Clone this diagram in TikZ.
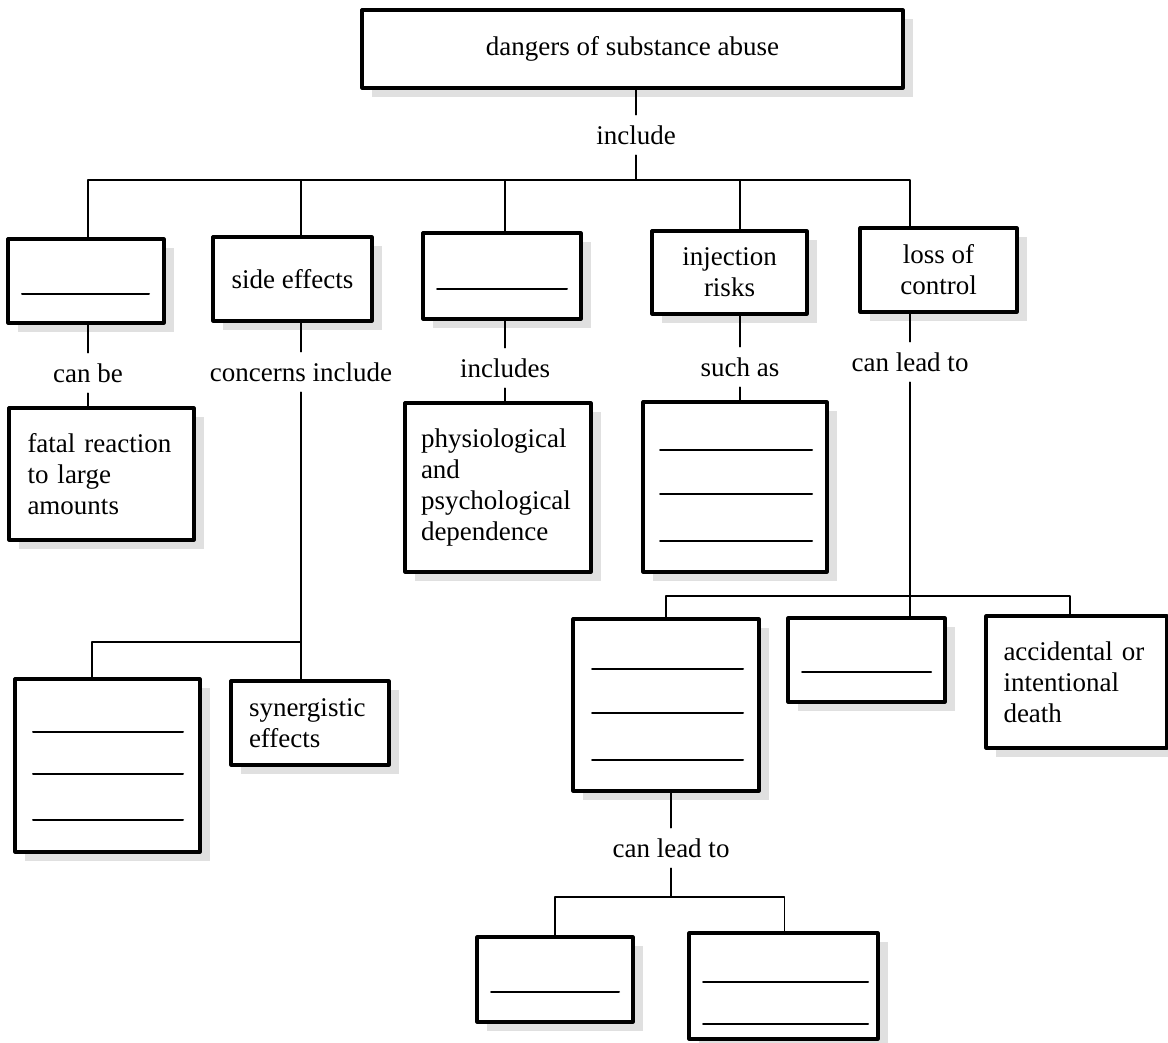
\documentclass[tikz,border=0pt]{standalone}
\usepackage{fontspec}
\setmainfont{Liberation Serif}
\usepackage{tikz}
\usetikzlibrary{shadows}

\begin{document}
\begin{tikzpicture}[line cap=round,line join=round,x=0.5pt,y=-0.5pt,
    box/.style={draw,fill=white,line width=1.6pt,inner sep=0pt,align=center,
      font=\fontsize{13.5}{15.5}\selectfont,
      drop shadow={shadow xshift=5pt,shadow yshift=-4.5pt,fill=black!12,opacity=1}},
    lbl/.style={inner sep=0pt,minimum height=20pt,font=\fontsize{13.5}{15.5}\selectfont},
    link/.style={line width=0.9pt},
    blank/.style={line width=1pt}]
  \useasboundingbox (0,0) rectangle (1168,1043);

  % top of the map
  \node[box,minimum width=270.5pt,minimum height=39pt] (top) at (632.5,49) {dangers of substance abuse};
  \node[lbl] (incl) at (636,135) {include};
  \coordinate (bus) at (636,180);

  % first row
  \node[box,minimum width=78pt,minimum height=42pt] (b1) at (86,281) {};
  \node[box,minimum width=79.5pt,minimum height=42pt] (side) at (292.5,279) {side effects};
  \node[box,minimum width=79pt,minimum height=43pt] (b3) at (502,276) {};
  \node[box,minimum width=77.5pt,minimum height=41.5pt] (inj) at (729.5,272.5) {injection\\risks};
  \node[box,minimum width=78.5pt,minimum height=42pt] (loss) at (938.5,270) {loss of\\control};

  \node[lbl] (canbe) at (88,373) {can be};
  \node[lbl] (conc) at (301,372) {concerns include};
  \node[lbl] (incls) at (505,368) {includes};
  \node[lbl] (suchl) at (740,367) {such as};
  \node[lbl] (lead) at (910,362) {can lead to};

  % second row
  \node[box,minimum width=92.5pt,minimum height=66pt,align=left,text width=74pt] (fatal) at (101.5,474)
    {fatal reaction\\to large\\amounts};
  \node[box,minimum width=93pt,minimum height=84.5pt,align=left,text width=77pt] (dep) at (498,487.5)
    {physiological\\and\\psychological\\dependence};
  \node[box,minimum width=92pt,minimum height=85pt] (such) at (735,487) {};

  % lower part
  \node[box,minimum width=92.5pt,minimum height=86.5pt] (blank3) at (107.5,765.5) {};
  \node[box,minimum width=79pt,minimum height=42pt,align=left,text width=61pt] (syn) at (310,723)
    {synergistic\\effects};
  \node[box,minimum width=93pt,minimum height=86pt] (lbox) at (666,705) {};
  \node[box,minimum width=78.5pt,minimum height=42pt] (mid) at (866.5,660) {};
  \node[box,minimum width=90.5pt,minimum height=66pt,align=left,text width=73pt] (acc) at (1076.5,682)
    {accidental or\\intentional\\death};
  \node[lbl] (lead2) at (671,848) {can lead to};
  \node[box,minimum width=78pt,minimum height=42.5pt] (low1) at (555,979.5) {};
  \node[box,minimum width=94.5pt,minimum height=53pt] (low2) at (783.5,986) {};

  % connectors
  \draw[link] (top.south -| incl) -- (incl.north);
  \draw[link] (incl.south) -- (bus);
  \draw[link] (bus) -| (b1.north -| canbe);
  \draw[link] (bus) -| (side.north -| conc);
  \draw[link] (bus) -| (b3.north -| incls);
  \draw[link] (bus) -| (inj.north -| suchl);
  \draw[link] (bus) -| (loss.north -| lead);

  \draw[link] (b1.south -| canbe) -- (canbe.north);
  \draw[link] (canbe.south) -- (fatal.north -| canbe);

  \draw[link] (side.south -| conc) -- (conc.north);
  \coordinate (fork) at (conc |- 0,642);
  \draw[link] (conc.south) -- (syn.north -| conc);
  \draw[link] (fork) -| ([xshift=-7.75pt]blank3.north);

  \draw[link] (b3.south -| incls) -- (incls.north);
  \draw[link] (incls.south) -- (dep.north -| incls);

  \draw[link] (inj.south -| suchl) -- (suchl.north);
  \draw[link] (suchl.south) -- (such.north -| suchl);

  \draw[link] (loss.south -| lead) -- (lead.north);
  \draw[link] (lead.south) -- (mid.north -| lead);
  \coordinate (fork2) at (lead |- 0,596);
  \draw[link] (fork2) -| (lbox.north);
  \draw[link] (fork2) -| ([xshift=-3.25pt]acc.north);

  \draw[link] (lbox.south -| lead2) -- (lead2.north);
  \coordinate (fork3) at (lead2 |- 0,897);
  \draw[link] (lead2.south) -- (fork3);
  \draw[link] (fork3) -| (low1.north);
  \draw[link] (fork3) -| ([xshift=0.5pt]low2.north);

  % blanks to fill in
  \draw[blank] (22,294) -- (149,294);
  \draw[blank] (437,289) -- (567,289);
  \draw[blank] (660,450) -- (812,450);
  \draw[blank] (660,494) -- (812,494);
  \draw[blank] (660,541) -- (812,541);
  \draw[blank] (33,732) -- (183,732);
  \draw[blank] (33,774) -- (183,774);
  \draw[blank] (33,820) -- (183,820);
  \draw[blank] (592,669) -- (743,669);
  \draw[blank] (592,713) -- (743,713);
  \draw[blank] (592,760) -- (743,760);
  \draw[blank] (802,672) -- (931,672);
  \draw[blank] (491,992) -- (619,992);
  \draw[blank] (703,982) -- (868,982);
  \draw[blank] (703,1024) -- (868,1024);
\end{tikzpicture}
\end{document}
